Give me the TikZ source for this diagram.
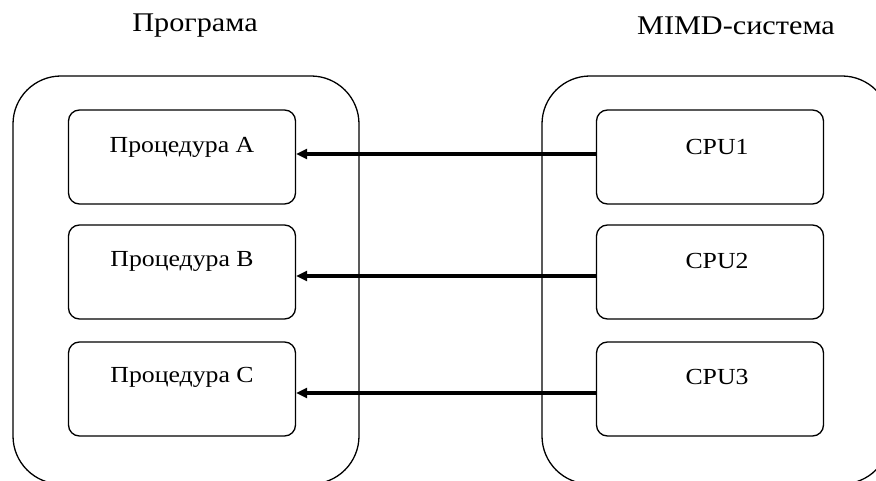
\documentclass[tikz,border=0pt]{standalone}
\usepackage{fontspec}
\setmainfont[FakeStretch=1.12]{Liberation Serif}
\usetikzlibrary{arrows.meta}
\begin{document}
\begin{tikzpicture}[x=1pt,y=-1pt,
  outerbox/.style={draw,line width=1.3pt,rounded corners=48pt},
  inbox/.style={draw,line width=1.3pt,rounded corners=11pt,minimum width=227pt,minimum height=94pt,inner sep=0pt},
  lbl/.style={font=\fontsize{23}{27}\selectfont,inner sep=0pt},
  title/.style={font=\fontsize{27}{32}\selectfont,inner sep=0pt},
  link/.style={line width=3.3pt,-{Triangle[length=11pt,width=10pt]}}]
\useasboundingbox (0,0) rectangle (876,481);
\clip (0,0) rectangle (876,481);

% column headings
\node[title] (tprog) at (195,26) {Програма};
\node[title] (tmimd) at (736,26) {MIMD-система};

% enclosing frames (run past the lower and right edges)
\draw[outerbox] (13,76) rectangle (359,484);
\draw[outerbox] (542,76) rectangle (890,484);

% procedures
\node[inbox] (pa) at (182,157) {};
\node[inbox] (pb) at (182,272) {};
\node[inbox] (pc) at (182,389) {};
\node[lbl] (ta) at (182,147) {Процедура A};
\node[lbl] (tb) at (182,261) {Процедура B};
\node[lbl] (tc) at (182,377) {Процедура C};

% processors
\node[inbox] (c1) at (710,157) {};
\node[inbox] (c2) at (710,272) {};
\node[inbox] (c3) at (710,389) {};
\node[lbl] (tc1) at (717,147) {CPU1};
\node[lbl] (tc2) at (717,261) {CPU2};
\node[lbl] (tc3) at (717,377) {CPU3};

% assignments of processors to procedures
\draw[link] ([yshift=3pt]c1.west) -- ([yshift=3pt]pa.east);
\draw[link] ([yshift=-4pt]c2.west) -- ([yshift=-4pt]pb.east);
\draw[link] ([yshift=-4pt]c3.west) -- ([yshift=-4pt]pc.east);
\end{tikzpicture}
\end{document}
